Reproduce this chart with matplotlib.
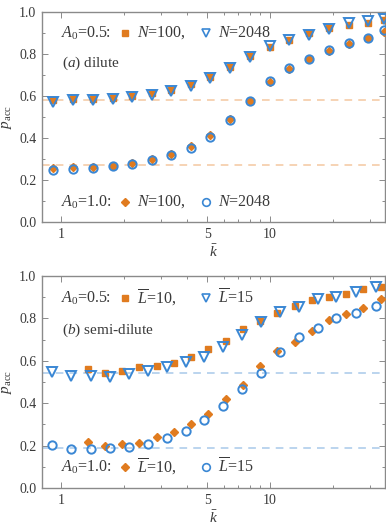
import numpy as np
import matplotlib
matplotlib.use("Agg")
import matplotlib.pyplot as plt
from matplotlib.ticker import FixedLocator, NullFormatter, FixedFormatter

plt.rcParams['font.family'] = ['Liberation Serif', 'DejaVu Serif']
plt.rcParams['mathtext.fontset'] = 'custom'
plt.rcParams['mathtext.rm'] = 'Liberation Serif'
plt.rcParams['mathtext.it'] = 'Liberation Serif:italic'

# ---- data: panel (a) dilute ----
k_a = [0.916, 1.141, 1.423, 1.773, 2.187, 2.725, 3.36, 4.19, 5.16, 6.44,
       8.02, 10.0, 12.3, 15.4, 19.1, 23.9, 29.4, 35.3]
a_half_N100 = [0.580, 0.586, 0.586, 0.592, 0.599, 0.612, 0.628, 0.655, 0.690, 0.740,
               0.790, 0.832, 0.868, 0.898, 0.922, 0.938, 0.950, 0.962]
a_half_N2048 = [0.573, 0.581, 0.581, 0.587, 0.594, 0.605, 0.622, 0.648, 0.684, 0.735,
                0.787, 0.838, 0.867, 0.892, 0.919, 0.946, 0.956, 0.968]
a_one_N100 = [0.258, 0.260, 0.263, 0.269, 0.281, 0.298, 0.322, 0.360, 0.415, 0.490,
              0.576, 0.666, 0.730, 0.776, 0.816, 0.850, 0.876, 0.906]
a_one_N2048 = [0.248, 0.252, 0.256, 0.265, 0.276, 0.294, 0.318, 0.354, 0.406, 0.486,
               0.576, 0.670, 0.732, 0.778, 0.819, 0.852, 0.878, 0.913]
a_ref = [0.583, 0.272]

# ---- data: panel (b) semi-dilute ----
k_b_L10 = [1.342, 1.622, 1.961, 2.371, 2.867, 3.466, 4.19, 5.07, 6.13, 7.41,
           8.96, 10.83, 13.1, 15.8, 19.1, 23.1, 27.9, 33.8]
k_b_L15 = [0.903, 1.116, 1.387, 1.716, 2.115, 2.60, 3.20, 3.95, 4.85, 5.98,
           7.37, 9.06, 11.2, 13.8, 16.9, 20.8, 25.8, 32.0]
b_half_L10 = [0.560, 0.544, 0.553, 0.569, 0.575, 0.591, 0.619, 0.654, 0.692, 0.751,
              0.789, 0.827, 0.860, 0.888, 0.899, 0.917, 0.937, 0.950]
b_half_L15 = [0.546, 0.528, 0.530, 0.525, 0.538, 0.552, 0.569, 0.596, 0.619, 0.667,
              0.720, 0.783, 0.832, 0.855, 0.890, 0.902, 0.926, 0.950]
b_one_L10 = [0.215, 0.198, 0.209, 0.212, 0.241, 0.264, 0.302, 0.349, 0.420, 0.487,
             0.575, 0.648, 0.690, 0.741, 0.791, 0.819, 0.849, 0.890]
b_one_L15 = [0.201, 0.184, 0.184, 0.187, 0.193, 0.206, 0.234, 0.269, 0.319, 0.388,
             0.465, 0.541, 0.640, 0.711, 0.756, 0.800, 0.827, 0.858]
b_ref = [0.541, 0.190]

ORANGE = '#e07b1f'
BLUE = '#3a87d4'
TXT = '#3a3a3a'
FRAME = '#8a8a8a'

W, H = 386, 526
fig = plt.figure(figsize=(W / 100, H / 100), dpi=100)

def box(l, t, r, b):
    return [l / W, 1 - b / H, (r - l) / W, (b - t) / H]

ax1 = fig.add_axes(box(42, 12, 385, 222))
ax2 = fig.add_axes(box(42, 276, 385, 488))

def style(ax):
    ax.set_xscale('log')
    ax.set_xlim(0.811, 35.5)
    ax.set_ylim(0, 1)
    ax.xaxis.set_major_locator(FixedLocator([1, 5, 10]))
    ax.xaxis.set_major_formatter(FixedFormatter(['1', '5', '10']))
    ax.xaxis.set_minor_locator(FixedLocator([2, 3, 4, 6, 7, 8, 9, 20, 30]))
    ax.xaxis.set_minor_formatter(NullFormatter())
    ax.set_yticks([0, 0.2, 0.4, 0.6, 0.8, 1.0])
    ax.set_yticklabels(['0.0', '0.2', '0.4', '0.6', '0.8', '1.0'])
    ax.yaxis.set_minor_locator(FixedLocator([0.1, 0.3, 0.5, 0.7, 0.9]))
    ax.tick_params(which='both', direction='in', top=True, right=True,
                   color=FRAME, labelsize=10, labelcolor=TXT, width=0.7)
    ax.tick_params(which='major', length=4, pad=4)
    ax.tick_params(which='minor', length=2)
    for s in ax.spines.values():
        s.set_color(FRAME)
        s.set_linewidth(1.0)
    ax.set_ylabel(r'$p_\mathrm{acc}$', fontsize=11, color=TXT, labelpad=4)
    ax.set_xlabel(r'$\bar{k}$', fontsize=11, color=TXT, labelpad=2)

style(ax1)
style(ax2)

kw_sq = dict(ls='none', marker='s', ms=4.3, color=ORANGE, mec=ORANGE, zorder=3)
kw_di = dict(ls='none', marker='D', ms=4.3, color=ORANGE, mec=ORANGE, zorder=3)
kw_tr = dict(ls='none', marker='v', ms=6.5, mfc='none', mec=BLUE, mew=1.4, zorder=4)
kw_ci = dict(ls='none', marker='o', ms=6.0, mfc='none', mec=BLUE, mew=1.4, zorder=4)

# panel (a)
for y in a_ref:
    ax1.axhline(y, color='#f4c8a0', lw=1.1, ls=(0, (5, 4)), zorder=1)
ax1.plot(k_a, a_half_N100, **kw_sq)
ax1.plot(k_a, a_half_N2048, **kw_tr)
ax1.plot(k_a, a_one_N100, **kw_di)
ax1.plot(k_a, a_one_N2048, **kw_ci)

# panel (b)
for y in b_ref:
    ax2.axhline(y, color='#a8c9ea', lw=1.1, ls=(0, (5, 4)), zorder=1)
ax2.plot(k_b_L10, b_half_L10, **kw_sq)
ax2.plot(k_b_L15, b_half_L15, **kw_tr)
ax2.plot(k_b_L10, b_one_L10, **kw_di)
ax2.plot(k_b_L15, b_one_L15, **kw_ci)

def legend_row(ax, y, lead, lab1, lab2, m1, m2):
    tr = ax.transAxes
    def fx(px):
        return (px - 42) / (385 - 42)
    ax.text(fx(61), y, lead, transform=tr, fontsize=11.5, color=TXT, va='center')
    ax.plot([fx(125)], [y], transform=tr, clip_on=False, **m1)
    ax.text(fx(137), y, lab1, transform=tr, fontsize=11.5, color=TXT, va='center')
    ax.plot([fx(206)], [y], transform=tr, clip_on=False, **m2)
    ax.text(fx(218), y, lab2, transform=tr, fontsize=11.5, color=TXT, va='center')

def leg_markers(m1, m2):
    a = dict(m1); b = dict(m2)
    return a, b

# panel (a) legends
legend_row(ax1, (222 - 33) / 210, r'$A_0$=0.5:', r'$N$=100,', r'$N$=2048',
           dict(kw_sq, ms=4.0), dict(kw_tr, ms=6.0, mew=1.2))
legend_row(ax1, (222 - 202) / 210, r'$A_0$=1.0:', r'$N$=100,', r'$N$=2048',
           dict(kw_di, ms=4.0), dict(kw_ci, ms=5.5, mew=1.2))
ax1.text((62 - 42) / 343, (222 - 63) / 210, r'($a$) dilute', transform=ax1.transAxes,
         fontsize=11, color=TXT, va='center')

# panel (b) legends
legend_row(ax2, (488 - 298) / 212, r'$A_0$=0.5:', r'$\overline{L}$=10,', r'$\overline{L}$=15',
           dict(kw_sq, ms=4.0), dict(kw_tr, ms=6.0, mew=1.2))
legend_row(ax2, (488 - 467) / 212, r'$A_0$=1.0:', r'$\overline{L}$=10,', r'$\overline{L}$=15',
           dict(kw_di, ms=4.0), dict(kw_ci, ms=5.5, mew=1.2))
ax2.text((62 - 42) / 343, (488 - 330) / 212, r'($b$) semi-dilute', transform=ax2.transAxes,
         fontsize=11, color=TXT, va='center')

fig.savefig('out.png', dpi=100)
